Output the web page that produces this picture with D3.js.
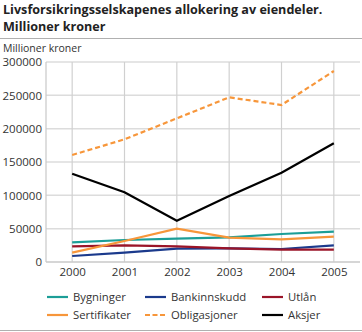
<!DOCTYPE html>
<html><head><meta charset="utf-8">
<script src="https://cdn.jsdelivr.net/npm/d3@7"></script>
<style>body{margin:0;background:#fff;}svg{display:block;font-family:"Open Sans",sans-serif;}</style>
</head><body><svg id="c" width="362" height="332"></svg>
<script>
const years = ["2000","2001","2002","2003","2004","2005"];
const bygninger = [29500, 33000, 35000, 37000, 42000, 45500];
const bankinnskudd = [9000, 14000, 20000, 20500, 19500, 25000];
const utlan = [23500, 25000, 23500, 20500, 18500, 18500];
const sertifikater = [14000, 31500, 50000, 36500, 34000, 38000];
const obligasjoner = [160500, 184000, 215500, 247000, 235500, 286500];
const aksjer = [132500, 104500, 62000, 99000, 134000, 178000];
const yTicks = [0, 50000, 100000, 150000, 200000, 250000, 300000];

const series = [
  {name:"Bygninger", values:bygninger, color:"#1c9e97", dash:null},
  {name:"Bankinnskudd", values:bankinnskudd, color:"#1b3a8c", dash:null},
  {name:"Utlån", values:utlan, color:"#9a1428", dash:null},
  {name:"Sertifikater", values:sertifikater, color:"#f7963a", dash:null},
  {name:"Obligasjoner", values:obligasjoner, color:"#f7963a", dash:"5,3"},
  {name:"Aksjer", values:aksjer, color:"#000000", dash:null}
];

const svg = d3.select("#c");
const L = 46, R = 360, T = 62, B = 262;
const x = d3.scalePoint().domain(years).range([L, R]).padding(0.5);
const y = d3.scaleLinear().domain([0, 300000]).range([B, T]);

// title
svg.append("text").attr("x",3).attr("y",14).attr("font-size",12.6).attr("font-weight","bold").attr("fill","#222")
  .text("Livsforsikringsselskapenes allokering av eiendeler.");
svg.append("text").attr("x",3).attr("y",31).attr("font-size",12.6).attr("font-weight","bold").attr("fill","#222")
  .text("Millioner kroner");
svg.append("line").attr("x1",0).attr("x2",362).attr("y1",38.5).attr("y2",38.5).attr("stroke","#b0b0b0").attr("stroke-width",1);
svg.append("line").attr("x1",0).attr("x2",362).attr("y1",330.5).attr("y2",330.5).attr("stroke","#b0b0b0").attr("stroke-width",1);
svg.append("text").attr("x",3).attr("y",52).attr("font-size",10.5).attr("fill","#333").text("Millioner kroner");

// grid
const g = svg.append("g");
g.selectAll(".hg").data(yTicks).join("line")
  .attr("x1",L).attr("x2",R).attr("y1",d=>y(d)).attr("y2",d=>y(d))
  .attr("stroke","#dcdcdc").attr("stroke-width",1.5);
g.selectAll(".vg").data(years).join("line")
  .attr("x1",d=>x(d)).attr("x2",d=>x(d)).attr("y1",T).attr("y2",B)
  .attr("stroke","#d0d0d0").attr("stroke-width",1.2);
g.append("line").attr("x1",L).attr("x2",L).attr("y1",T).attr("y2",B).attr("stroke","#c8c8c8").attr("stroke-width",1.2);
g.append("line").attr("x1",L).attr("x2",R).attr("y1",B).attr("y2",B).attr("stroke","#c8c8c8").attr("stroke-width",1.2);

// axes
const yAxis = d3.axisLeft(y).tickValues(yTicks).tickSize(0).tickPadding(4).tickFormat(d3.format("d"));
const ya = svg.append("g").attr("transform",`translate(${L},0)`).call(yAxis);
ya.select(".domain").remove();
ya.selectAll("text").attr("font-size",11.5).attr("fill","#333").attr("font-family","Open Sans");
const xAxis = d3.axisBottom(x).tickSize(0).tickPadding(6);
const xa = svg.append("g").attr("transform",`translate(0,${B})`).call(xAxis);
xa.select(".domain").remove();
xa.selectAll("text").attr("font-size",11.5).attr("fill","#333").attr("font-family","Open Sans");

// lines
const line = d3.line().x((d,i)=>x(years[i])).y(d=>y(d));
series.forEach(s=>{
  svg.append("path").attr("d",line(s.values)).attr("fill","none")
    .attr("stroke",s.color).attr("stroke-width",2.2)
    .attr("stroke-dasharray",s.dash).attr("stroke-linejoin","miter");
});

// legend
const lx = [47, 145, 262], ly = [297, 315];
series.forEach((s,i)=>{
  const cx = lx[i%3], cy = ly[Math.floor(i/3)];
  svg.append("line").attr("x1",cx).attr("x2",cx+21).attr("y1",cy).attr("y2",cy)
    .attr("stroke",s.color).attr("stroke-width",2.2).attr("stroke-dasharray",s.dash?"5,2.5":null);
  svg.append("text").attr("x",cx+26).attr("y",cy+4.2).attr("font-size",11.3).attr("fill","#333").text(s.name);
});
</script></body></html>
